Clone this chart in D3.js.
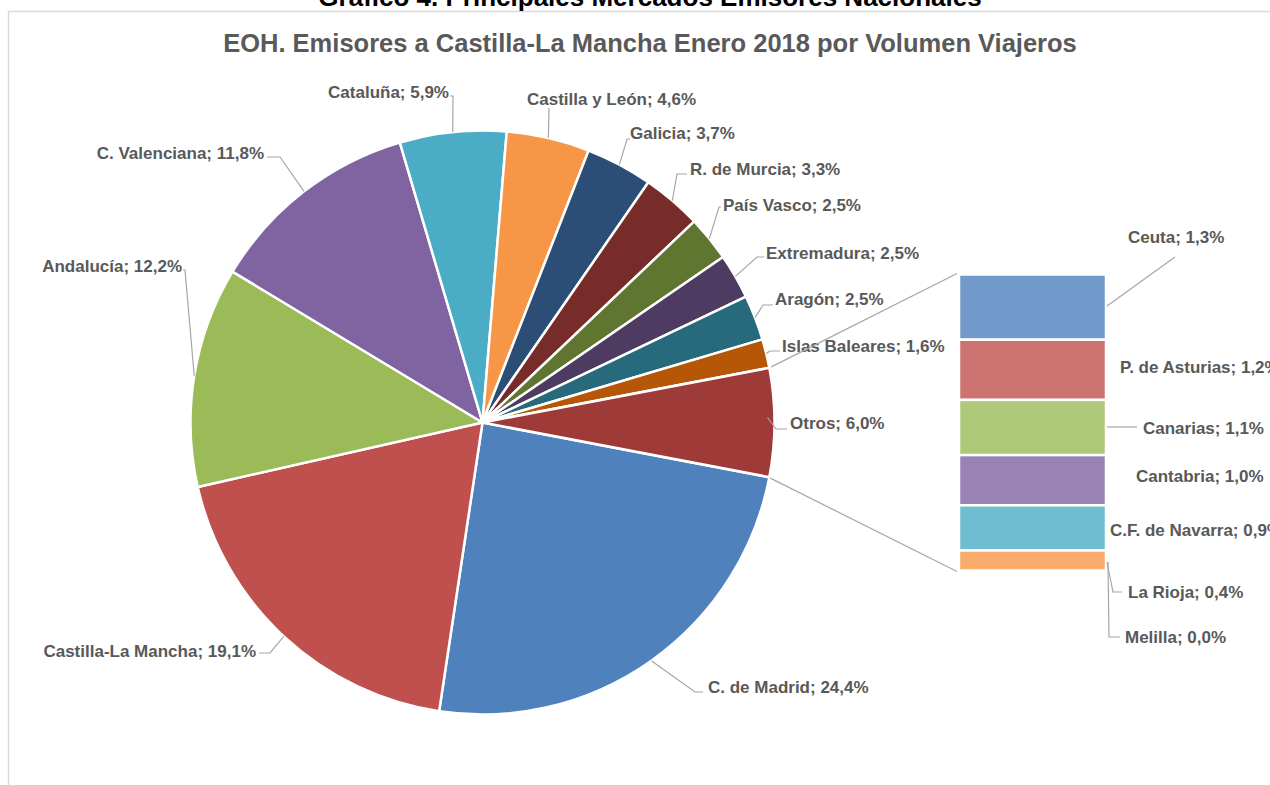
<!DOCTYPE html>
<html><head><meta charset="utf-8">
<script src="https://cdn.jsdelivr.net/npm/d3@7"></script>
<style>
html,body{margin:0;padding:0;background:#fff;}
svg{display:block;font-family:"Liberation Sans",Arial,sans-serif;}
</style></head>
<body>
<svg id="chart" width="1270" height="785"></svg>
<script>
// ---- data ----
const mainCategories = ["C. de Madrid","Castilla-La Mancha","Andalucía","C. Valenciana","Cataluña","Castilla y León","Galicia","R. de Murcia","País Vasco","Extremadura","Aragón","Islas Baleares","Otros"];
const mainValues = [24.4,19.1,12.2,11.8,5.9,4.6,3.7,3.3,2.5,2.5,2.5,1.6,6.0];
const mainLabels = ["24,4%","19,1%","12,2%","11,8%","5,9%","4,6%","3,7%","3,3%","2,5%","2,5%","2,5%","1,6%","6,0%"];
const otherCategories = ["Ceuta","P. de Asturias","Canarias","Cantabria","C.F. de Navarra","La Rioja","Melilla"];
const otherValues = [1.3,1.2,1.1,1.0,0.9,0.4,0.0];
const otherLabels = ["1,3%","1,2%","1,1%","1,0%","0,9%","0,4%","0,0%"];

// ---- styles ----
const mainColors = ["#4F81BD","#C0504D","#9BBB59","#8064A2","#4BACC6","#F79646","#2C4D75","#772C2A","#5F7530","#4D3B62","#276A7C","#B65708","#9E3B39"];
const otherColors = ["#729ACA","#CD7371","#AFC97A","#9983B5","#6FBDD1","#F9AB6B","#7F7F7F"];

// ---- layout (label placement, leader elbows) ----
const mainLabelLayout = [
  {x:708,y:687,anchor:"start",pts:[[695,692],[703,692]]},
  {x:256,y:651,anchor:"end",pts:[[270,653],[259,653]]},
  {x:182,y:266,anchor:"end",pts:[[185,270],[183,270]]},
  {x:264,y:153,anchor:"end",pts:[[280,157],[267,157]]},
  {x:449,y:92,anchor:"end",pts:[[453,96],[450,96]]},
  {x:527,y:99,anchor:"start",pts:[[549,108]]},
  {x:630,y:133,anchor:"start",pts:[[627,139],[630,139]]},
  {x:690,y:169,anchor:"start",pts:[[677,174],[687,174]]},
  {x:723,y:205,anchor:"start",pts:[[719,207],[721,207]]},
  {x:766,y:253,anchor:"start",pts:[[757,257],[764,257]]},
  {x:775,y:299,anchor:"start",pts:[[763,305],[773,305]]},
  {x:782,y:346,anchor:"start",pts:[[770,351],[780,351]]},
  {x:790,y:423,anchor:"start",pts:[[776,429],[787,429]]}
];
const otherLabelLayout = [
  {x:1128,y:237,leader:[[1107,306],[1175,257]]},
  {x:1120,y:367,leader:null},
  {x:1143,y:428,leader:[[1107,427],[1137,427]]},
  {x:1136,y:476,leader:null},
  {x:1110,y:530,leader:null},
  {x:1128,y:592,leader:[[1107,562],[1113,592],[1122,592]]},
  {x:1125,y:637,leader:[[1108,562],[1109,637],[1120,637]]}
];

const svg = d3.select("#chart");
const textColor = "#595959";
const lineColor = "#A6A6A6";
const labelSize = 17;

// frame
svg.append("path").attr("d","M8.5,785 L8.5,11.5 L1270,11.5").attr("fill","none").attr("stroke","#D9D9D9").attr("stroke-width",1.5);

// top clipped heading
svg.append("text").attr("x",650).attr("y",6).attr("text-anchor","middle")
  .attr("font-size",26).attr("font-weight","bold").attr("fill","#000")
  .text("Gráfico 4. Principales Mercados Emisores Nacionales");

// chart title
svg.append("text").attr("x",650).attr("y",52).attr("text-anchor","middle")
  .attr("font-size",25.5).attr("font-weight","bold").attr("fill",textColor)
  .text("EOH. Emisores a Castilla-La Mancha Enero 2018 por Volumen Viajeros");

// ---- pie ----
const cx = 482.5, cy = 422.5, R = 292;
const total = d3.sum(mainValues);
const otrosIdx = mainCategories.length - 1;
const startA = Math.PI/2 + (mainValues[otrosIdx]/total)*Math.PI;
const pie = d3.pie().sort(null).value(d=>d).startAngle(startA).endAngle(startA + 2*Math.PI);
const arcs = pie(mainValues);
const arc = d3.arc().innerRadius(0).outerRadius(R);
const edgeArc = d3.arc().innerRadius(R).outerRadius(R);

const g = svg.append("g").attr("transform",`translate(${cx},${cy})`);
g.selectAll("path.slice").data(arcs).join("path").attr("class","slice")
  .attr("d",arc).attr("fill",(d,i)=>mainColors[i])
  .attr("stroke","#fff").attr("stroke-width",2.5).attr("stroke-linejoin","round");

// leader lines for pie
const line = d3.line();
arcs.forEach((a,i)=>{
  const L = mainLabelLayout[i];
  let p0 = edgeArc.centroid(a);
  p0 = [p0[0]+cx, p0[1]+cy];
  if (i === otrosIdx) p0 = [cx+R-7, cy-5];
  svg.append("path").attr("d", line([p0, ...L.pts])).attr("fill","none")
    .attr("stroke",lineColor).attr("stroke-width",1.2);
  svg.append("text").attr("x",L.x).attr("y",L.y).attr("dy","0.36em")
    .attr("text-anchor",L.anchor).attr("font-size",labelSize).attr("font-weight","bold")
    .attr("fill",textColor).text(mainCategories[i] + "; " + mainLabels[i]);
});

// ---- bar of others ----
const otherTotal = d3.sum(otherValues);
const barX0 = 959, barX1 = 1106;
const yScale = d3.scaleLinear().domain([0, otherTotal]).range([274.5, 570.5]);
const cum = d3.cumsum([0, ...otherValues]);
// connectors
const oa = arcs[otrosIdx];
const pTop = [cx + R*Math.sin(oa.startAngle), cy - R*Math.cos(oa.startAngle)];
const pBot = [cx + R*Math.sin(oa.endAngle), cy - R*Math.cos(oa.endAngle)];
svg.append("path").attr("d", line([[pTop[0]+2,pTop[1]-1],[barX0-2, yScale(0)-1]])).attr("stroke",lineColor).attr("stroke-width",1.2).attr("fill","none");
svg.append("path").attr("d", line([[pBot[0]+1,pBot[1]+1],[barX0-2, yScale(otherTotal)+1]])).attr("stroke",lineColor).attr("stroke-width",1.2).attr("fill","none");

svg.selectAll("rect.other").data(otherValues).join("rect").attr("class","other")
  .attr("x",barX0).attr("width",barX1-barX0)
  .attr("y",(d,i)=>yScale(cum[i]))
  .attr("height",(d,i)=>Math.max(0, yScale(cum[i+1]) - yScale(cum[i])))
  .attr("fill",(d,i)=>otherColors[i])
  .attr("stroke","#fff").attr("stroke-width",2.5);

otherLabelLayout.forEach((L,i)=>{
  if (L.leader) svg.append("path").attr("d", line(L.leader)).attr("fill","none")
    .attr("stroke",lineColor).attr("stroke-width",1.2);
  svg.append("text").attr("x",L.x).attr("y",L.y).attr("dy","0.36em")
    .attr("font-size",labelSize).attr("font-weight","bold").attr("fill",textColor)
    .text(otherCategories[i] + "; " + otherLabels[i]);
});
</script>
</body></html>
